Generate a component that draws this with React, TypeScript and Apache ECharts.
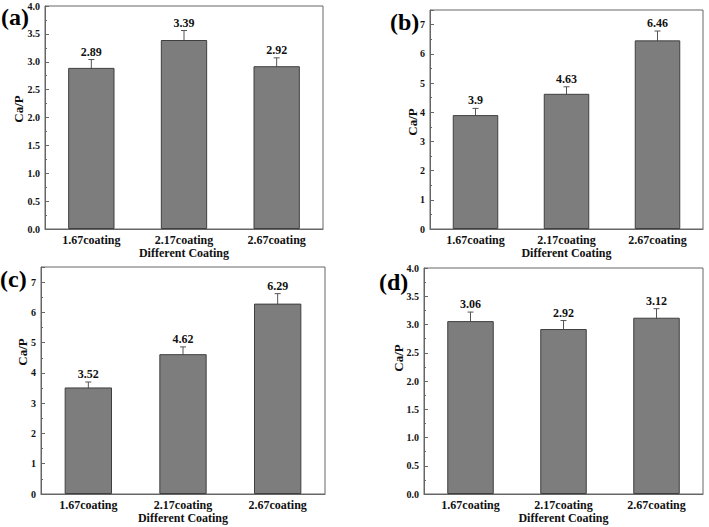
import React, { useEffect, useRef } from "react";
import * as echarts from "echarts";

const categories = ["1.67coating", "2.17coating", "2.67coating"];
const valuesA = [2.89, 3.39, 2.92];
const errorsA = [0.15, 0.17, 0.15];
const valuesB = [3.9, 4.63, 6.46];
const errorsB = [0.23, 0.24, 0.32];
const valuesC = [3.52, 4.62, 6.29];
const errorsC = [0.18, 0.24, 0.33];
const valuesD = [3.06, 2.92, 3.12];
const errorsD = [0.16, 0.15, 0.16];
const panelLabels = ["(a)", "(b)", "(c)", "(d)"];
const xTitle = "Different Coating";
const yTitle = "Ca/P";

const FONT = "Liberation Serif";

export default function App() {
  const ref = useRef<HTMLDivElement>(null);
  useEffect(() => {
    if (!ref.current) return;
    const chart = echarts.init(ref.current, null, { renderer: "svg" });

    const grids = [
      { left: 45, top: 6, width: 278, height: 223 },
      { left: 430, top: 10, width: 273, height: 219 },
      { left: 41, top: 267, width: 284, height: 227 },
      { left: 424, top: 268, width: 279, height: 226 },
    ];
    const intFmt = (v: number) => (Math.abs(v - Math.round(v)) < 1e-9 ? String(Math.round(v)) : "");
    const axisCfg = [
      { max: 4, interval: 0.5, fmt: (v: number) => v.toFixed(1) },
      { max: 7.5, interval: 1, fmt: intFmt },
      { max: 7.5, interval: 1, fmt: intFmt },
      { max: 4, interval: 0.5, fmt: (v: number) => v.toFixed(1) },
    ];
    const vals = [valuesA, valuesB, valuesC, valuesD];
    const errs = [errorsA, errorsB, errorsC, errorsD];

    const axisColor = "#666";

    const xAxis = grids.map((_, i) => ({
      type: "category",
      gridIndex: i,
      data: categories,
      name: xTitle,
      nameLocation: "middle",
      nameGap: 17,
      nameTextStyle: { fontFamily: FONT, fontWeight: "bold", fontSize: 12, color: "#111" },
      axisLine: { lineStyle: { color: axisColor } },
      axisTick: { inside: true, alignWithLabel: true, length: 3, lineStyle: { color: axisColor } },
      axisLabel: { margin: 5, fontFamily: FONT, fontWeight: "bold", fontSize: 12, color: "#111" },
      splitLine: { show: false },
    }));

    const yAxis = grids.map((_, i) => ({
      type: "value",
      gridIndex: i,
      min: 0,
      max: axisCfg[i].max,
      interval: axisCfg[i].interval,
      axisLine: { show: true, lineStyle: { color: axisColor } },
      axisTick: { show: true, inside: true, length: 4, lineStyle: { color: axisColor } },
      minorTick: { show: true, splitNumber: 2, length: 2, lineStyle: { color: axisColor } },
      axisLabel: {
        margin: 5,
        fontFamily: FONT,
        fontWeight: "bold",
        fontSize: 10,
        color: "#111",
        formatter: axisCfg[i].fmt,
        showMaxLabel: axisCfg[i].max === 4,
      },
      splitLine: { show: false },
    }));

    const series: any[] = [];
    grids.forEach((_, i) => {
      series.push({
        type: "bar",
        xAxisIndex: i,
        yAxisIndex: i,
        data: vals[i],
        barWidth: "50%",
        itemStyle: { color: "#7d7d7d", borderColor: "#3f3f3f", borderWidth: 1 },
      });
      const v = vals[i];
      const e = errs[i];
      series.push({
        type: "custom",
        xAxisIndex: i,
        yAxisIndex: i,
        data: v.map((val, k) => [k, val, e[k]]),
        renderItem: (params: any, api: any) => {
          const x = api.value(0);
          const val = api.value(1);
          const er = api.value(2);
          const top = api.coord([x, val + er]);
          const bot = api.coord([x, val - er]);
          const cap = 3;
          const st = { stroke: "#555", lineWidth: 1 };
          return {
            type: "group",
            children: [
              { type: "line", shape: { x1: top[0], y1: top[1], x2: bot[0], y2: bot[1] }, style: st },
              { type: "line", shape: { x1: top[0] - cap, y1: top[1], x2: top[0] + cap, y2: top[1] }, style: st },
              { type: "line", shape: { x1: bot[0] - cap, y1: bot[1], x2: bot[0] + cap, y2: bot[1] }, style: st },
              {
                type: "text",
                x: top[0],
                y: top[1] - 2,
                style: {
                  text: String(v[params.dataIndex]),
                  align: "center",
                  verticalAlign: "bottom",
                  fontFamily: FONT,
                  fontWeight: "bold",
                  fontSize: 12,
                  fill: "#111",
                },
              },
            ],
          };
        },
      });
    });

    const labelPos = [
      { x: 1, y: 17 },
      { x: 390, y: 22 },
      { x: 0, y: 279 },
      { x: 379, y: 282 },
    ];
    const yTitlePos = [
      { x: 18, y: 109 },
      { x: 412, y: 122 },
      { x: 22, y: 352 },
      { x: 398, y: 358 },
    ];

    const graphic: any[] = [];
    panelLabels.forEach((t, i) => {
      graphic.push({
        type: "text",
        x: labelPos[i].x,
        y: labelPos[i].y,
        style: {
          text: t,
          fontFamily: FONT,
          fontWeight: "bold",
          fontSize: 24,
          fill: "#000",
          align: "left",
          verticalAlign: "middle",
        },
      });
      graphic.push({
        type: "text",
        x: yTitlePos[i].x,
        y: yTitlePos[i].y,
        rotation: Math.PI / 2,
        style: {
          text: yTitle,
          fontFamily: FONT,
          fontWeight: "bold",
          fontSize: 13,
          fill: "#111",
          align: "center",
          verticalAlign: "middle",
        },
      });
    });

    chart.setOption({
      animation: false,
      backgroundColor: "#fff",
      grid: grids.map((g) => ({ ...g, show: true, borderColor: axisColor, borderWidth: 1, backgroundColor: "transparent" })),
      xAxis,
      yAxis,
      series,
      graphic,
    });
    return () => chart.dispose();
  }, []);

  return <div ref={ref} style={{ position: "absolute", left: 0, top: 0, width: 709, height: 527 }} />;
}
